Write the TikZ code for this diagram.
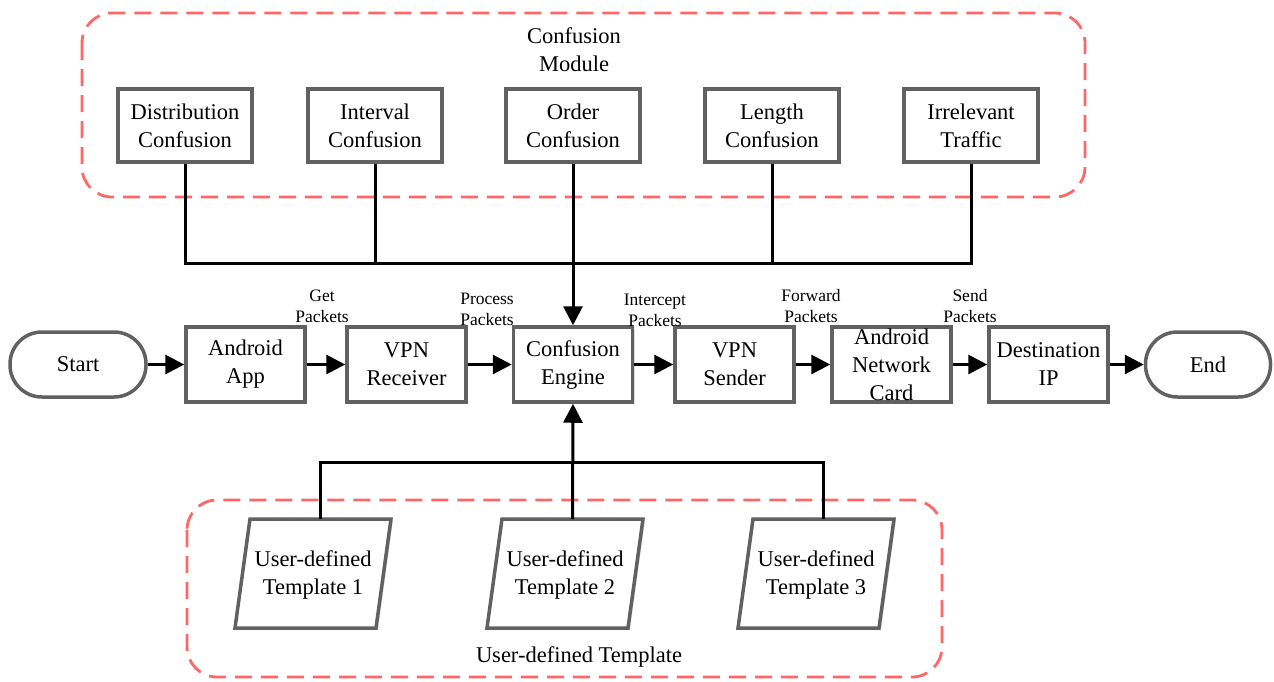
\documentclass[tikz,border=0pt]{standalone}
\usepackage{fontspec}
\setmainfont{LiberationSerif}[Extension=.ttf, UprightFont=*-Regular, BoldFont=*-Bold, ItalicFont=*-Italic, BoldItalicFont=*-BoldItalic]
\usetikzlibrary{arrows.meta,shadows}
\begin{document}
\begin{tikzpicture}[x=1pt,y=-1pt,
  every node/.style={font=\fontsize{22.5}{28}\selectfont, align=center, inner sep=0pt},
  procbox/.style={draw=black!62, line width=3.5pt, fill=white, minimum width=119pt, minimum height=75pt,
    drop shadow={opacity=0.25, shadow xshift=2pt, shadow yshift=-2pt}},
  modbox/.style={procbox, minimum width=134pt, minimum height=73pt},
  terminal/.style={draw=black!62, line width=3.5pt, fill=white, rounded corners=32pt,
    minimum height=65pt},
  tmpl/.style={draw=black!62, line width=3.5pt, fill=white, line join=miter},
  group/.style={draw=red!60!white, line width=2.8pt, dash pattern=on 17pt off 9pt, rounded corners=30pt},
  link/.style={draw=black, line width=3pt},
  flow/.style={link, -{Triangle[length=19pt 0,width=19pt 0]}},
  lbl/.style={font=\fontsize{17.5}{21}\selectfont}
]
\useasboundingbox (0,0) rectangle (1274,681);

% grouping frames
\draw[group] (82,13) rectangle (1085,197);
\draw[group] (187,500) rectangle (942,677);
\node (modtitle) at (574,50) {Confusion\\Module};
\node (tpltitle) at (579,657) {User-defined Template};

% confusion modules
\node[modbox] (dist)  at (185,125.5) {Distribution\\Confusion};
\node[modbox] (intv)  at (375,125.5) {Interval\\Confusion};
\node[modbox] (order) at (573,125.5) {Order\\Confusion};
\node[modbox] (len)   at (772,125.5) {Length\\Confusion};
\node[modbox] (irr)   at (971,125.5) {Irrelevant\\Traffic};

% main processing chain
\node[terminal, minimum width=136pt] (start) at (78,364.5) {Start};
\node[procbox] (app)   at (245.5,364.5) {Android\\App};
\node[procbox] (recv)  at (406.5,364.5) {VPN\\Receiver};
\node[procbox] (engine) at (573,364.5) {Confusion\\Engine};
\node[procbox] (send)  at (734.5,364.5) {VPN\\Sender};
\node[procbox] (card)  at (891.5,364.5) {Android\\Network\\Card};
\node[procbox] (dest)  at (1048.5,364.5) {Destination\\IP};
\node[terminal, minimum width=125pt] (end)  at (1208,364.5) {End};

% user templates (parallelograms drawn around their text)
\foreach \i/\cx in {1/313,2/565,3/816}{
  \draw[tmpl, drop shadow={opacity=0.25, shadow xshift=2pt, shadow yshift=-2pt}]
    (\cx-63,519) -- (\cx+78,519) -- (\cx+63,628) -- (\cx-78,628) -- cycle;
  \node (t\i) at (\cx,575) {User-defined\\Template \i};
  \coordinate (tp\i) at (\cx+7.5,519);
}

% module bus
\coordinate (bus) at (185,263);
\draw[link] (dist.south) |- (irr.south |- bus) -- (irr.south);
\draw[link] (intv.south) -- (intv.south |- bus);
\draw[link] (len.south) -- (len.south |- bus);
\draw[flow] (order.south) -- (engine.north);

% template bus
\coordinate (tbus) at (320,462);
\draw[link] (tp1) |- (tp3 |- tbus) -- (tp3);
\draw[flow] (tp2) -- (engine.south);

% chain arrows
\draw[flow] (start) -- (app);
\draw[flow] (app) -- (recv);
\draw[flow] (recv) -- (engine);
\draw[flow] (engine) -- (send);
\draw[flow] (send) -- (card);
\draw[flow] (card) -- (dest);
\draw[flow] (dest) -- (end);

% arrow labels
\node[lbl] (l1) at (322,306.5) {Get\\Packets};
\node[lbl] (l2) at (487,309.5) {Process\\Packets};
\node[lbl] (l3) at (655,310.5) {Intercept\\Packets};
\node[lbl] (l4) at (811,306.5) {Forward\\Packets};
\node[lbl] (l5) at (970,306.5) {Send\\Packets};
\end{tikzpicture}
\end{document}
